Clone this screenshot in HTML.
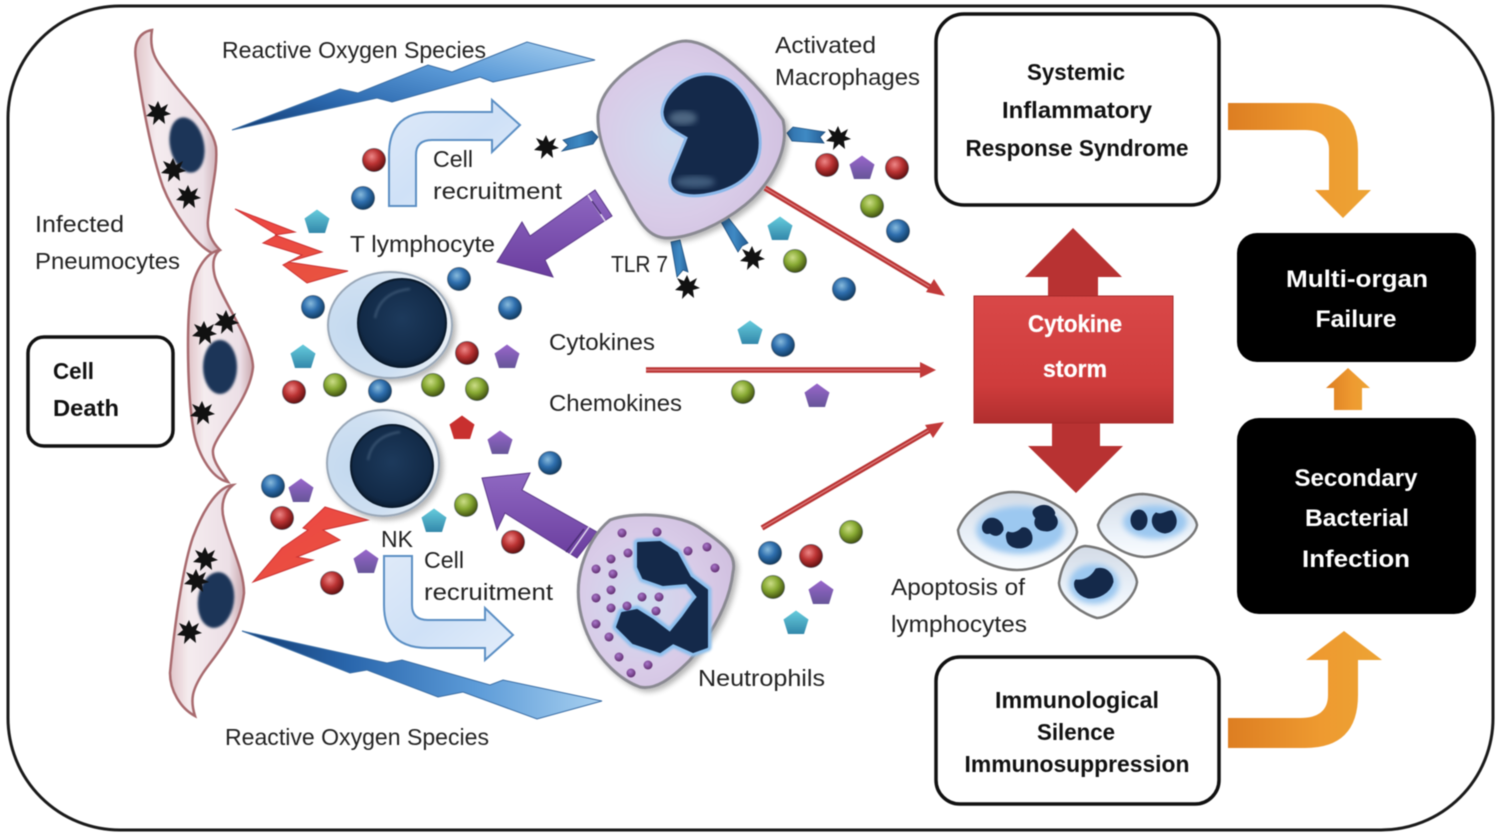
<!DOCTYPE html>
<html><head><meta charset="utf-8"><style>html,body{margin:0;padding:0;background:#fff}svg{display:block;filter:blur(.5px)}text{font-family:"Liberation Sans",sans-serif;fill:#222;font-size:23px}.b{font-weight:bold;text-anchor:middle;font-size:23px;fill:#111}.w{font-weight:bold;text-anchor:middle;font-size:24px;fill:#fff}</style></head><body>
<svg width="1499" height="839" viewBox="0 0 1499 839" xmlns="http://www.w3.org/2000/svg">
<defs>
<radialGradient id="r" cx=".4" cy=".35" r=".65"><stop offset="0" stop-color="#e88"/><stop offset=".5" stop-color="#b33"/><stop offset="1" stop-color="#611"/></radialGradient>
<radialGradient id="u" cx=".4" cy=".35" r=".65"><stop offset="0" stop-color="#8bd"/><stop offset=".5" stop-color="#2f6fae"/><stop offset="1" stop-color="#123e66"/></radialGradient>
<radialGradient id="g" cx=".4" cy=".35" r=".65"><stop offset="0" stop-color="#cd8"/><stop offset=".5" stop-color="#8a3"/><stop offset="1" stop-color="#451"/></radialGradient>
<radialGradient id="pd" cx=".4" cy=".35" r=".6"><stop offset="0" stop-color="#a7c"/><stop offset="1" stop-color="#637"/></radialGradient>
<linearGradient id="cy" x1="0" y1="0" x2="0" y2="1"><stop offset="0" stop-color="#6cd"/><stop offset="1" stop-color="#38a"/></linearGradient>
<linearGradient id="pu" x1="0" y1="0" x2="0" y2="1"><stop offset="0" stop-color="#96c"/><stop offset="1" stop-color="#659"/></linearGradient>
<linearGradient id="purp" x1="0" y1="0" x2="0" y2="1"><stop offset="0" stop-color="#8f68c2"/><stop offset="1" stop-color="#6a3d9e"/></linearGradient>
<linearGradient id="red" x1="0" y1="0" x2="0" y2="1"><stop offset="0" stop-color="#d94848"/><stop offset=".7" stop-color="#cf3c3c"/><stop offset="1" stop-color="#b02e2e"/></linearGradient>
<linearGradient id="lt" x1="0" y1="0" x2="1" y2="1"><stop offset="0" stop-color="#e44"/><stop offset="1" stop-color="#e8553f"/></linearGradient>
<linearGradient id="ros1" x1="0" y1="1" x2="1" y2="0"><stop offset="0" stop-color="#123a70"/><stop offset=".3" stop-color="#2a67ad"/><stop offset=".65" stop-color="#5c9bd8"/><stop offset="1" stop-color="#a8d0f0"/></linearGradient>
<linearGradient id="ros2" x1="0" y1="0" x2="1" y2="0"><stop offset="0" stop-color="#123a70"/><stop offset=".3" stop-color="#2a67ad"/><stop offset=".65" stop-color="#5c9bd8"/><stop offset="1" stop-color="#a8d0f0"/></linearGradient>
<linearGradient id="ba" x1="0" y1="0" x2="1" y2="1"><stop offset="0" stop-color="#dfeaf9"/><stop offset=".5" stop-color="#cfe1f7"/><stop offset="1" stop-color="#e4eefb"/></linearGradient>
<linearGradient id="or" x1="0" y1="0" x2="1" y2="0"><stop offset="0" stop-color="#dd7e22"/><stop offset=".6" stop-color="#ee9a30"/><stop offset="1" stop-color="#eda435"/></linearGradient>
<radialGradient id="lil" cx=".4" cy=".5" r=".65"><stop offset="0" stop-color="#d0dcf0"/><stop offset=".6" stop-color="#d9cce8"/><stop offset="1" stop-color="#d0bfdf"/></radialGradient>
<radialGradient id="lym" cx=".25" cy=".55" r=".8"><stop offset="0" stop-color="#c3d9ef"/><stop offset=".6" stop-color="#cfe0f2"/><stop offset="1" stop-color="#f2f5f8"/></radialGradient>
<linearGradient id="apo" x1="0" y1="0" x2="0" y2="1"><stop offset="0" stop-color="#d3dbe6"/><stop offset=".6" stop-color="#eaf1f9"/><stop offset="1" stop-color="#fbfdff"/></linearGradient>
<linearGradient id="pink" x1="0" y1="0" x2="1" y2="0"><stop offset="0" stop-color="#e0c4c8"/><stop offset=".25" stop-color="#f5ecef"/><stop offset=".8" stop-color="#ecdfe6"/><stop offset="1" stop-color="#c9a8ae"/></linearGradient>
<radialGradient id="nuc" cx=".5" cy=".45" r=".55"><stop offset="0" stop-color="#1d3a5c"/><stop offset=".85" stop-color="#122a47"/><stop offset="1" stop-color="#0c1e34"/></radialGradient>
<linearGradient id="tl" x1="0" y1="0" x2="1" y2="0"><stop offset="0" stop-color="#2f6faa"/><stop offset=".5" stop-color="#3f8ac4"/><stop offset="1" stop-color="#245d94"/></linearGradient>
<filter id="sh" x="-20%" y="-20%" width="140%" height="140%"><feGaussianBlur in="SourceAlpha" stdDeviation="3"/><feOffset dx="3" dy="3"/><feComponentTransfer><feFuncA type="linear" slope=".3"/></feComponentTransfer><feMerge><feMergeNode/><feMergeNode in="SourceGraphic"/></feMerge></filter>
<filter id="bl"><feGaussianBlur stdDeviation="1"/></filter>
<filter id="bl3"><feGaussianBlur stdDeviation="3"/></filter>
<polygon id="pent" points="0,-12.5 12.5,-3.5 8,11 -8,11 -12.5,-3.5"/>
<polygon id="star" points="0,-12 3,-5 10,-9 7,-2 13,1 6,3 7,11 1,6 -5,12 -4,4 -12,3 -6,-2 -10,-9 -3,-6"/>
<circle id="s" r="11.5" stroke="#123" stroke-opacity=".45" stroke-width="1"/>
</defs>
<rect width="1499" height="839" fill="#fff"/>
<rect x="8" y="6" width="1485" height="824" rx="112" ry="112" fill="#fff" stroke="#1a1a1a" stroke-width="3"/>

<!-- ROS bolts -->
<polygon points="232,130 340,89 358,93 428,65 452,72 527,42 595,60 493,82 480,77 392,102 377,98" fill="url(#ros1)" stroke="#3b6ea5" stroke-width="1"/>
<polygon points="242,631 387,663 402,660 490,685 503,680 602,701 537,719 463,692 438,697 367,670 350,673" fill="url(#ros2)" stroke="#3b6ea5" stroke-width="1"/>

<!-- Pneumocytes -->
<g stroke="#a86a6e" stroke-width="2.5" fill="url(#pink)">
<path d="M152,30 C140,32 133,42 136,60 C140,90 150,150 163,187 C172,210 195,245 212,253 L220,250 C210,240 207,230 208,220 C210,195 218,170 216,147 C212,125 190,105 173,83 C160,65 148,55 152,30Z"/>
<path d="M220,250 C205,252 192,275 190,300 C187,325 187,390 193,427 C196,450 210,478 228,482 C220,470 212,460 213,450 C215,435 250,400 253,367 C252,340 222,300 215,277 C212,265 213,255 220,250Z"/>
<path d="M233,485 C220,486 205,505 193,537 C185,560 176,610 170,673 C170,690 180,708 195,716 C190,700 192,690 203,673 C215,655 240,630 244,593 C244,570 230,545 224,520 C220,505 224,492 233,485Z"/>
</g>
<g fill="#1a3558" filter="url(#bl)"><ellipse cx="187" cy="145" rx="17" ry="28" transform="rotate(-12 187 145)"/><ellipse cx="220" cy="367" rx="17" ry="27"/><ellipse cx="216" cy="600" rx="18" ry="28" transform="rotate(8 216 600)"/></g>
<g fill="#111">
<use href="#star" x="158" y="113"/><use href="#star" x="173" y="170"/><use href="#star" x="188" y="197"/><use href="#star" x="204" y="333"/><use href="#star" x="226" y="322"/><use href="#star" x="202" y="413"/><use href="#star" x="205" y="559"/><use href="#star" x="196" y="581"/><use href="#star" x="189" y="632"/><use href="#star" x="546" y="147"/><use href="#star" x="838" y="138"/><use href="#star" x="752" y="258"/><use href="#star" x="687" y="287"/>
</g>

<!-- Lightning -->
<g fill="url(#lt)" stroke="#c33" stroke-width="1">
<polygon points="235,209 295,232 275,235 322,252 288,262 348,271 307,283 283,265 302,255 263,243 277,235"/>
<polygon points="368,520 323,530 340,540 297,557 313,560 253,582 282,548 308,530 303,528 325,507"/>
</g>

<!-- Blue curved arrows -->
<g fill="url(#ba)" stroke="#5b8fc4" stroke-width="2">
<path d="M389,206 L389,155 Q389,112 432,112 L492,112 L492,100 L520,125 L492,152 L492,140 L432,140 Q416,140 416,155 L416,206Z"/>
<path d="M384,556 L412,556 L412,605 Q412,620 428,620 L485,620 L485,608 L513,635 L485,660 L485,648 L428,648 Q384,648 384,605Z"/>
</g>

<!-- Purple arrows -->
<g fill="url(#purp)" stroke="#5d3a8a" stroke-width="1">
<polygon points="497,262 522,222 530,236 595,190 612,216 545,260 553,277"/>
<polygon points="482,478 530,473 522,490 597,532 577,558 505,513 497,530"/>
</g>
<g stroke="#e4dcef" stroke-width="1.5"><line x1="588" y1="195" x2="605" y2="221"/><line x1="592" y1="201" x2="601" y2="214" stroke="#4c2e78"/><line x1="589" y1="527" x2="570" y2="554"/><line x1="584" y1="529" x2="566" y2="552" stroke="#4c2e78"/></g>

<!-- TLR receptors -->
<g fill="url(#tl)" stroke="#1f507f" stroke-width=".8">
<polygon points="598,137 592,131 563,140 568,145 562,151 593,144"/>
<polygon points="787,133 793,127 825,132 820,137 824,143 792,141"/>
<polygon points="720,220 727,216 748,243 742,246 738,252"/>
<polygon points="671,242 680,240 688,272 683,270 677,277"/>
</g>

<!-- Macrophage -->
<path d="M686,41 C715,42 755,80 783,120 C790,150 770,185 745,205 C720,225 690,238 667,238 C650,238 640,225 625,195 C610,170 597,140 598,115 C600,90 625,70 645,58 C660,48 675,41 686,41Z" fill="url(#lil)" stroke="#8a8a92" stroke-width="3" filter="url(#sh)"/>
<path d="M705,74 C730,73 745,90 755,115 C765,145 760,165 745,178 C730,192 700,198 685,195 C670,192 667,182 672,172 C677,160 682,148 686,138 C672,130 662,125 662,112 C664,92 685,75 705,74Z" fill="#14294a" stroke="#8ab8ea" stroke-width="3"/>
<ellipse cx="683" cy="118" rx="14" ry="7" fill="#4d6682" filter="url(#bl3)"/>
<ellipse cx="695" cy="182" rx="20" ry="6" fill="#3f5c7c" filter="url(#bl3)"/>

<!-- T & NK -->
<ellipse cx="390" cy="325" rx="62" ry="53" fill="url(#lym)" stroke="#9aa8b8" stroke-width="2" filter="url(#sh)"/>
<circle cx="402" cy="323" r="44" fill="url(#nuc)" stroke="#0a1a2c" stroke-width="2"/>
<path d="M375,318 Q380,292 410,289" fill="none" stroke="#3e5876" stroke-width="2" filter="url(#bl)"/>
<ellipse cx="383" cy="463" rx="56" ry="53" fill="url(#lym)" stroke="#9aa8b8" stroke-width="2" filter="url(#sh)"/>
<circle cx="392" cy="466" r="41" fill="url(#nuc)" stroke="#0a1a2c" stroke-width="2"/>
<path d="M368,460 Q372,436 400,432" fill="none" stroke="#3e5876" stroke-width="2" filter="url(#bl)"/>

<!-- Neutrophil -->
<path d="M610,520 C630,512 680,512 703,530 C725,545 737,555 733,572 C730,600 715,630 690,660 C670,680 655,690 640,687 C620,680 600,660 590,640 C578,615 575,590 582,565 C588,545 598,530 610,520Z" fill="url(#lil)" stroke="#8a8a92" stroke-width="3" filter="url(#sh)"/>
<polygon points="638,543 660,542 677,553 690,577 707,590 707,647 693,652 673,643 660,652 633,643 617,627 622,613 637,610 653,620 670,633 683,617 693,603 698,597 687,583 663,585 643,578 638,567" fill="#8cc0ee" stroke="#8cc0ee" stroke-width="9" stroke-linejoin="round" filter="url(#bl)"/>
<polygon points="638,543 660,542 677,553 690,577 707,590 707,647 693,652 673,643 660,652 633,643 617,627 622,613 637,610 653,620 670,633 683,617 693,603 698,597 687,583 663,585 643,578 638,567" fill="#14294a" stroke="#14294a" stroke-width="2" stroke-linejoin="round"/>
<g fill="url(#pd)">
<circle cx="622" cy="533" r="4.5"/><circle cx="657" cy="532" r="4.5"/><circle cx="628" cy="553" r="4.5"/><circle cx="611" cy="559" r="4.5"/><circle cx="596" cy="569" r="4.5"/><circle cx="613" cy="574" r="4.5"/><circle cx="611" cy="590" r="4.5"/><circle cx="596" cy="598" r="4.5"/><circle cx="611" cy="608" r="4.5"/><circle cx="627" cy="606" r="4.5"/><circle cx="642" cy="597" r="4.5"/><circle cx="659" cy="597" r="4.5"/><circle cx="656" cy="611" r="4.5"/><circle cx="596" cy="624" r="4.5"/><circle cx="609" cy="637" r="4.5"/><circle cx="619" cy="657" r="4.5"/><circle cx="648" cy="665" r="4.5"/><circle cx="631" cy="673" r="4.5"/><circle cx="688" cy="551" r="4.5"/><circle cx="707" cy="547" r="4.5"/><circle cx="715" cy="568" r="4.5"/>
</g>

<!-- Apoptosis cells -->
<g fill="url(#apo)" stroke="#777" stroke-width="2.5">
<path d="M958,530 C965,510 990,492 1013,492 C1040,492 1075,510 1077,532 C1075,550 1045,570 1017,570 C995,570 960,555 958,530Z"/>
<path d="M1098,525 C1105,505 1125,494 1143,494 C1165,495 1195,510 1197,525 C1195,540 1165,557 1145,557 C1125,557 1100,540 1098,525Z"/>
<path d="M1059,583 C1062,560 1075,547 1085,546 C1110,548 1135,565 1137,582 C1135,600 1110,618 1097,618 C1085,615 1060,600 1059,583Z"/>
</g>
<g fill="#9cc8f0" filter="url(#bl3)"><ellipse cx="1020" cy="530" rx="44" ry="24"/><ellipse cx="1155" cy="522" rx="32" ry="17"/><ellipse cx="1094" cy="584" rx="25" ry="20"/></g>
<g fill="#14294a" stroke="#14294a" stroke-width="1">
<path d="M988,519 C997,516 1004,524 1003,530 C1000,536 995,537 990,533 C982,536 979,524 988,519Z"/>
<path d="M1008,532 C1013,534 1018,532 1022,528 C1030,526 1035,538 1030,544 C1022,551 1008,548 1007,540 C1006,536 1006,534 1008,532Z"/>
<path d="M1040,506 C1050,503 1057,512 1054,515 C1060,520 1058,530 1047,531 C1036,531 1033,524 1036,518 C1030,512 1034,508 1040,506Z"/>
<ellipse cx="1139" cy="520" rx="8" ry="10"/>
<path d="M1156,513 C1162,516 1168,510 1172,511 C1180,520 1176,532 1165,533 C1152,532 1149,518 1156,513Z"/>
<path d="M1096,569 C1106,566 1113,574 1113,582 C1110,593 1098,599 1088,598 C1076,595 1072,584 1076,580 C1086,581 1092,576 1096,569Z"/>
</g>

<!-- Thin red arrows -->
<g fill="none" stroke="#b83232" stroke-width="5.5"><line x1="765" y1="188" x2="935" y2="290"/><line x1="646" y1="370" x2="925" y2="370"/><line x1="762" y1="528" x2="933" y2="428"/></g>
<g fill="none" stroke="#da7474" stroke-width="1.5"><line x1="765" y1="188" x2="935" y2="290"/><line x1="646" y1="370" x2="925" y2="370"/><line x1="762" y1="528" x2="933" y2="428"/></g>
<g fill="#c23a3a"><polygon points="945,296 926,292 934,279"/><polygon points="936,370 920,362 920,378"/><polygon points="944,422 933,438 925,425"/></g>

<!-- Particles -->
<g fill="url(#r)"><use href="#s" x="374" y="160"/><use href="#s" x="467" y="353"/><use href="#s" x="294" y="392"/><use href="#s" x="282" y="518"/><use href="#s" x="332" y="583"/><use href="#s" x="513" y="542"/><use href="#s" x="827" y="165"/><use href="#s" x="897" y="168"/><use href="#s" x="811" y="556"/></g>
<g fill="url(#u)"><use href="#s" x="363" y="198"/><use href="#s" x="459" y="279"/><use href="#s" x="313" y="307"/><use href="#s" x="510" y="308"/><use href="#s" x="380" y="391"/><use href="#s" x="273" y="486"/><use href="#s" x="550" y="463"/><use href="#s" x="783" y="345"/><use href="#s" x="844" y="289"/><use href="#s" x="898" y="231"/><use href="#s" x="770" y="553"/></g>
<g fill="url(#g)"><use href="#s" x="335" y="385"/><use href="#s" x="433" y="385"/><use href="#s" x="477" y="389"/><use href="#s" x="466" y="505"/><use href="#s" x="743" y="392"/><use href="#s" x="795" y="261"/><use href="#s" x="872" y="206"/><use href="#s" x="851" y="532"/><use href="#s" x="773" y="587"/></g>
<g fill="url(#cy)"><use href="#pent" x="317" y="222"/><use href="#pent" x="303" y="357"/><use href="#pent" x="434" y="521"/><use href="#pent" x="750" y="333"/><use href="#pent" x="780" y="229"/><use href="#pent" x="796" y="623"/></g>
<g fill="url(#pu)"><use href="#pent" x="507" y="357"/><use href="#pent" x="500" y="443"/><use href="#pent" x="301" y="491"/><use href="#pent" x="366" y="562"/><use href="#pent" x="817" y="396"/><use href="#pent" x="862" y="168"/><use href="#pent" x="821" y="593"/></g>
<use href="#pent" x="462" y="428" fill="#c8302f"/>

<!-- Cytokine storm -->
<polygon points="1073,228 1122,277 1098,277 1098,300 1048,300 1048,277 1025,277" fill="#b83232"/>
<polygon points="1076,493 1123,446 1100,446 1100,420 1052,420 1052,446 1028,446" fill="#b83232"/>
<rect x="974" y="296" width="199" height="127" fill="url(#red)" stroke="#a82a2a" stroke-width="1"/>
<text class="w" x="1075" y="332" textLength="94" lengthAdjust="spacingAndGlyphs" stroke="#fff" stroke-width=".3">Cytokine</text>
<text class="w" x="1075" y="377" textLength="64" lengthAdjust="spacingAndGlyphs" stroke="#fff" stroke-width=".3">storm</text>

<!-- Boxes -->
<rect x="936" y="14" width="283" height="191" rx="28" fill="#fff" stroke="#111" stroke-width="3.5"/>
<rect x="936" y="657" width="283" height="147" rx="24" fill="#fff" stroke="#111" stroke-width="3.5"/>
<rect x="28" y="337" width="145" height="109" rx="16" fill="#fff" stroke="#111" stroke-width="3.5"/>
<rect x="1237" y="233" width="239" height="129" rx="20" fill="#000"/>
<rect x="1237" y="418" width="239" height="196" rx="22" fill="#000"/>

<!-- Orange arrows -->
<g fill="url(#or)">
<path d="M1228,103 L1310,103 Q1358,103 1358,150 L1358,190 L1371,190 L1343,218 L1315,190 L1329,190 L1329,150 Q1329,130 1305,130 L1228,130Z"/>
<path d="M1228,718 L1300,718 Q1328,718 1328,695 L1328,660 L1306,660 L1344,631 L1382,660 L1358,660 L1358,695 Q1358,748 1305,748 L1228,748Z"/>
<polygon points="1348,368 1370,388 1362,388 1362,410 1334,410 1334,388 1326,388"/>
</g>

<!-- Labels -->
<text x="222" y="58" textLength="264" lengthAdjust="spacingAndGlyphs">Reactive Oxygen Species</text>
<text x="225" y="745" textLength="264" lengthAdjust="spacingAndGlyphs">Reactive Oxygen Species</text>
<text x="775" y="53" textLength="101" lengthAdjust="spacingAndGlyphs">Activated</text>
<text x="775" y="85" textLength="145" lengthAdjust="spacingAndGlyphs">Macrophages</text>
<text x="35" y="232" textLength="89" lengthAdjust="spacingAndGlyphs">Infected</text>
<text x="35" y="269" textLength="145" lengthAdjust="spacingAndGlyphs">Pneumocytes</text>
<text x="433" y="167" textLength="40" lengthAdjust="spacingAndGlyphs">Cell</text>
<text x="433" y="199" textLength="129" lengthAdjust="spacingAndGlyphs">recruitment</text>
<text x="350" y="252" textLength="145" lengthAdjust="spacingAndGlyphs">T lymphocyte</text>
<text x="611" y="272" textLength="57" lengthAdjust="spacingAndGlyphs">TLR 7</text>
<text x="549" y="350" textLength="106" lengthAdjust="spacingAndGlyphs">Cytokines</text>
<text x="549" y="411" textLength="133" lengthAdjust="spacingAndGlyphs">Chemokines</text>
<text x="381" y="547" textLength="32" lengthAdjust="spacingAndGlyphs">NK</text>
<text x="424" y="568" textLength="40" lengthAdjust="spacingAndGlyphs">Cell</text>
<text x="424" y="600" textLength="129" lengthAdjust="spacingAndGlyphs">recruitment</text>
<text x="698" y="686" textLength="127" lengthAdjust="spacingAndGlyphs">Neutrophils</text>
<text x="891" y="595" textLength="134" lengthAdjust="spacingAndGlyphs">Apoptosis of</text>
<text x="891" y="632" textLength="136" lengthAdjust="spacingAndGlyphs">lymphocytes</text>
<text class="b" x="53" y="379" style="text-anchor:start" textLength="41" lengthAdjust="spacingAndGlyphs">Cell</text>
<text class="b" x="53" y="416" style="text-anchor:start" textLength="66" lengthAdjust="spacingAndGlyphs">Death</text>
<text class="b" x="1076" y="80" textLength="98" lengthAdjust="spacingAndGlyphs">Systemic</text>
<text class="b" x="1077" y="118" textLength="150" lengthAdjust="spacingAndGlyphs">Inflammatory</text>
<text class="b" x="1077" y="156" textLength="223" lengthAdjust="spacingAndGlyphs">Response Syndrome</text>
<text class="b" x="1077" y="708" textLength="164" lengthAdjust="spacingAndGlyphs">Immunological</text>
<text class="b" x="1076" y="740" textLength="78" lengthAdjust="spacingAndGlyphs">Silence</text>
<text class="b" x="1077" y="772" textLength="225" lengthAdjust="spacingAndGlyphs">Immunosuppression</text>
<text class="w" x="1357" y="287" textLength="142" lengthAdjust="spacingAndGlyphs">Multi-organ</text>
<text class="w" x="1356" y="327" textLength="81" lengthAdjust="spacingAndGlyphs">Failure</text>
<text class="w" x="1356" y="486" textLength="123" lengthAdjust="spacingAndGlyphs">Secondary</text>
<text class="w" x="1357" y="526" textLength="104" lengthAdjust="spacingAndGlyphs">Bacterial</text>
<text class="w" x="1356" y="567" textLength="108" lengthAdjust="spacingAndGlyphs">Infection</text>
</svg>
</body></html>
